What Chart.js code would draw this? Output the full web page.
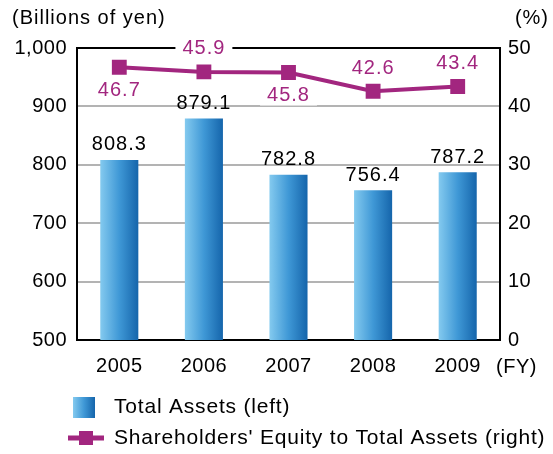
<!DOCTYPE html>
<html>
<head>
<meta charset="utf-8">
<script src="https://cdn.jsdelivr.net/npm/chart.js@4.4.0/dist/chart.umd.min.js"></script>
<style>
  html, body { margin: 0; padding: 0; background: #ffffff; overflow: hidden; }
  #wrap { width: 553px; height: 454px; }
</style>
</head>
<body>
<div id="wrap"><canvas id="c" width="553" height="454"></canvas></div>
<script>
// ---- data ----
const years = ['2005', '2006', '2007', '2008', '2009'];
const totalAssets = [808.3, 879.1, 782.8, 756.4, 787.2];
const equityRatio = [46.7, 45.9, 45.8, 42.6, 43.4];
const leftTicks = [500, 600, 700, 800, 900, 1000];
const rightTicks = [0, 10, 20, 30, 40, 50];
const seriesNames = ['Total Assets (left)', "Shareholders' Equity to Total Assets (right)"];

// ---- styles ----
const FONT = "'Liberation Sans', Arial, sans-serif";
const MAGENTA = '#A2267F';
const GRID = '#b3b3b3';
const BAR_LIGHT = '#84caef';
const BAR_MID = '#3f98d6';
const BAR_DARK = '#1565ab';
const BAR_FRACTION = 0.45;
const pctLabelSide = ['below', 'above', 'below', 'above', 'above'];

function barGradient(ctx, x0, x1) {
  const g = ctx.createLinearGradient(x0, 0, x1, 0);
  g.addColorStop(0, BAR_LIGHT);
  g.addColorStop(0.5, BAR_MID);
  g.addColorStop(1, BAR_DARK);
  return g;
}

const extrasPlugin = {
  id: 'extras',
  beforeDraw(chart) {
    chart.ctx.letterSpacing = '0.5px';
  },
  beforeDatasetsDraw(chart) {
    const { ctx, chartArea: a } = chart;
    ctx.save();
    ctx.strokeStyle = '#000';
    ctx.lineWidth = 2;
    ctx.strokeRect(a.left, a.top, a.right - a.left, a.bottom - a.top);
    ctx.restore();
  },
  afterDatasetsDraw(chart) {
    const { ctx } = chart;
    ctx.save();
    ctx.letterSpacing = '1px';
    ctx.font = '20px ' + FONT;
    ctx.textAlign = 'center';
    ctx.textBaseline = 'middle';
    // bar values
    const barMeta = chart.getDatasetMeta(1);
    barMeta.data.forEach((el, i) => {
      ctx.fillStyle = '#000';
      ctx.fillText(totalAssets[i].toFixed(1), el.x, el.y - 15);
    });
    // percentage values
    const lineMeta = chart.getDatasetMeta(0);
    lineMeta.data.forEach((el, i) => {
      const txt = equityRatio[i].toFixed(1);
      const y = pctLabelSide[i] === 'above' ? el.y - 23 : el.y + 23;
      const w = ctx.measureText(txt).width;
      ctx.fillStyle = '#fff';
      ctx.fillRect(el.x - w / 2 - 7, y - 10, w + 14, 20);
      ctx.fillStyle = MAGENTA;
      ctx.fillText(txt, el.x, y);
    });
    ctx.restore();
  },
  afterDraw(chart) {
    const { ctx, chartArea: a } = chart;
    ctx.save();
    ctx.letterSpacing = '1px';
    ctx.font = '20px ' + FONT;
    ctx.fillStyle = '#000';
    ctx.textBaseline = 'middle';
    ctx.textAlign = 'left';
    ctx.fillText('(Billions of yen)', 12, 18);
    ctx.textAlign = 'right';
    ctx.fillText('(%)', 549, 18);
    ctx.letterSpacing = '0.5px';
    ctx.textAlign = 'left';
    ctx.fillText('(FY)', a.right - 4, 367);

    // legend
    ctx.letterSpacing = '0.8px';
    ctx.font = '21px ' + FONT;
    const textX = 114;
    const row1 = 407, row2 = 438;
    ctx.fillStyle = barGradient(ctx, 73, 95);
    ctx.fillRect(73, row1 - 10, 22, 21);
    ctx.fillStyle = '#000';
    ctx.fillText(seriesNames[0], textX, row1);
    ctx.fillStyle = MAGENTA;
    ctx.fillRect(68, row2 - 2.5, 36, 5);
    ctx.fillRect(79, row2 - 7, 14, 14);
    ctx.fillStyle = '#000';
    ctx.fillText(seriesNames[1], textX, row2);
    ctx.restore();
  }
};

new Chart(document.getElementById('c'), {
  data: {
    labels: years,
    datasets: [
      {
        type: 'line',
        label: seriesNames[1],
        data: equityRatio,
        yAxisID: 'y1',
        order: 0,
        borderColor: MAGENTA,
        backgroundColor: MAGENTA,
        borderWidth: 4,
        pointStyle: 'rect',
        pointRadius: 10.5,
        pointHoverRadius: 10.5,
        pointBackgroundColor: MAGENTA,
        pointBorderWidth: 0,
        tension: 0
      },
      {
        type: 'bar',
        label: seriesNames[0],
        data: totalAssets,
        yAxisID: 'y',
        order: 1,
        barPercentage: BAR_FRACTION,
        categoryPercentage: 1,
        borderWidth: 0,
        backgroundColor(c) {
          const chart = c.chart;
          if (!chart.chartArea || c.type !== 'data') return BAR_MID;
          const xs = chart.scales.x;
          const cx = xs.getPixelForValue(c.dataIndex);
          const half = xs.width / years.length * BAR_FRACTION / 2;
          return barGradient(chart.ctx, cx - half, cx + half);
        }
      }
    ]
  },
  options: {
    responsive: false,
    animation: false,
    events: [],
    layout: { padding: { left: 0, top: 48, right: 0, bottom: 0 } },
    plugins: {
      tooltip: { enabled: false },
      legend: { display: false }
    },
    scales: {
      x: {
        type: 'category',
        offset: true,
        grid: { display: false, drawTicks: false },
        border: { display: false },
        ticks: { color: '#000', font: { family: FONT, size: 20 }, padding: 14, maxRotation: 0 },
        afterFit(s) { s.height = 114; }
      },
      y: {
        type: 'linear',
        position: 'left',
        min: leftTicks[0],
        max: leftTicks[leftTicks.length - 1],
        afterBuildTicks(s) { s.ticks = leftTicks.map(v => ({ value: v })); },
        grid: { color: GRID, lineWidth: 2, drawTicks: false },
        border: { display: false },
        ticks: {
          color: '#000',
          font: { family: FONT, size: 20 },
          padding: 10,
          callback: v => v.toLocaleString('en-US')
        },
        afterFit(s) { s.width = 77; }
      },
      y1: {
        type: 'linear',
        position: 'right',
        min: rightTicks[0],
        max: rightTicks[rightTicks.length - 1],
        afterBuildTicks(s) { s.ticks = rightTicks.map(v => ({ value: v })); },
        grid: { display: false, drawTicks: false },
        border: { display: false },
        ticks: { color: '#000', font: { family: FONT, size: 20 }, padding: 8 },
        afterFit(s) { s.width = 53; }
      }
    }
  },
  plugins: [extrasPlugin]
});
</script>
</body>
</html>
